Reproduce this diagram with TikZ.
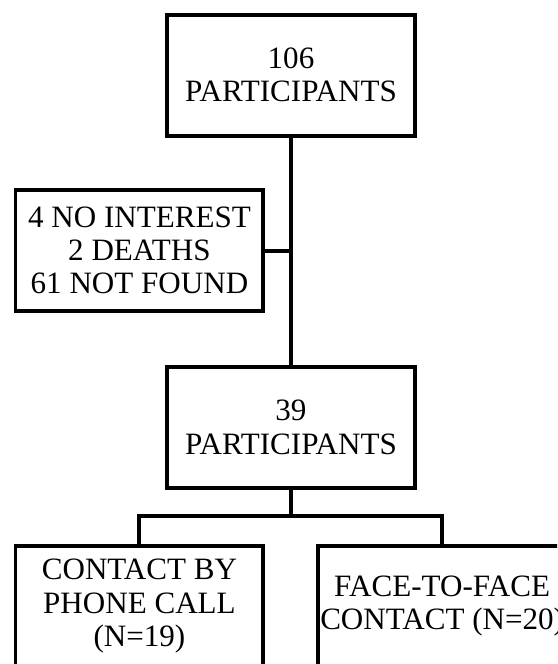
\documentclass[tikz,border=0pt]{standalone}
\usepackage{fontspec}
\setmainfont{Liberation Serif}
\tikzset{
  box/.style={draw, line width=3pt, minimum width=6.56cm, minimum height=3.2cm, align=center, inner sep=0pt, font=\fontsize{23.4}{25}\selectfont},
  link/.style={line width=3pt}
}

\begin{document}
\begin{tikzpicture}
  \useasboundingbox (0,0) rectangle (14.74,17.57);
  \clip (0,0) rectangle (14.74,17.57);
  \node [box] (start) at (7.70,15.58) {106\\PARTICIPANTS};
  \node [box] (lost) at (3.69,10.94) {4 NO INTEREST\\2 DEATHS\\61 NOT FOUND};
  \node [box] (remain) at (7.70,6.26) {39\\PARTICIPANTS};
  \node [box] (phone) at (3.69,1.53) {CONTACT BY\\PHONE CALL\\(N=19)};
  \node [box] (face) at (11.70,1.53) {FACE-TO-FACE\\CONTACT (N=20)};
  \coordinate (split) at (7.70,3.92);
  \draw [link] (start.south) -- (remain.north);
  \draw [link] (lost.east) -- (lost.east -| start.south);
  \draw [link] (remain.south) -- (split);
  \draw [link] (phone.north) |- (split) -| (face.north);
\end{tikzpicture}
\end{document}
